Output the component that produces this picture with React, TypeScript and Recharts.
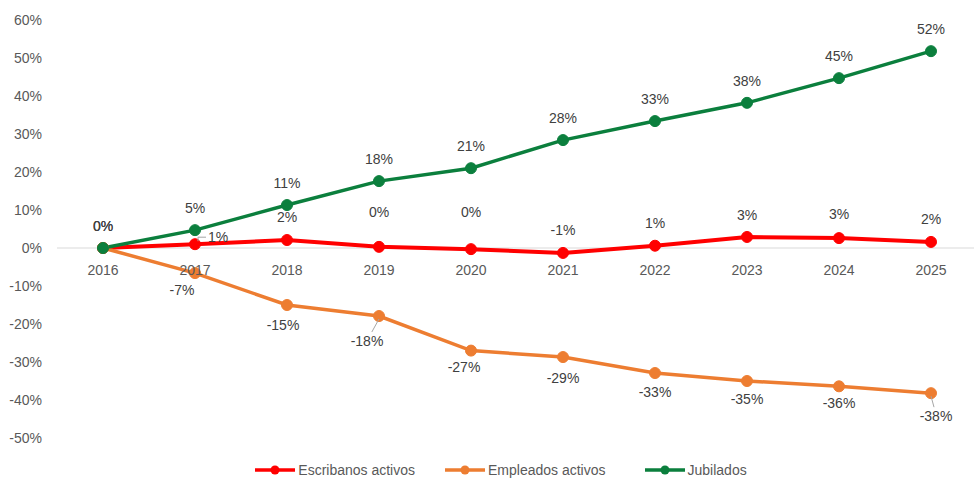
import React from 'react';
import { LineChart, Line, XAxis, YAxis, ReferenceLine, Legend, LabelList } from 'recharts';

const years = ['2016', '2017', '2018', '2019', '2020', '2021', '2022', '2023', '2024', '2025'];
const escribanos = [0, 1.0, 2.1, 0.3, -0.3, -1.3, 0.6, 2.9, 2.6, 1.6];
const empleados = [0, -6.6, -15.0, -17.9, -27.0, -28.7, -32.9, -35.0, -36.4, -38.2];
const jubilados = [0, 4.7, 11.3, 17.6, 21.0, 28.4, 33.4, 38.2, 44.7, 51.8];
const yTicks = [-50, -40, -30, -20, -10, 0, 10, 20, 30, 40, 50, 60];

const data = years.map((y, i) => ({
  year: y,
  escribanos: escribanos[i],
  empleados: empleados[i],
  jubilados: jubilados[i],
}));

const FONT = '"Liberation Sans", Arial, sans-serif';
const W = 974;
const H = 484;
const M = { top: 20, right: 0, left: 7, bottom: 0 };
const LEGEND_H = 24;
const XAXIS_H = 22;
const PLOT_H = H - M.top - M.bottom - LEGEND_H - XAXIS_H;
const Y_MIN = -50;
const Y_MAX = 60;
const ZERO_FROM_BOTTOM = (PLOT_H * (0 - Y_MIN)) / (Y_MAX - Y_MIN);

const RED = '#FF0000';
const ORANGE = '#ED7D31';
const GREEN = '#0B7F3D';

const fmt = (v: number) => `${Math.round(v) === 0 ? 0 : Math.round(v)}%`;

// label style shifts (dx, dy of label centre relative to point)
const redShift: [number, number][] = [
  [0, -22], [23, -7], [0, -23], [0, -35], [0, -37], [0, -23], [0, -23], [0, -22], [0, -24], [0, -23],
];
const orangeShift: [number, number][] = [
  [0, 0], [-13, 17], [-4, 20], [-12, 25], [-7, 16], [0, 21], [0, 19], [0, 18], [0, 17], [5, 23],
];
const greenShift: [number, number][] = [
  [0, -22], [0, -22], [0, -22], [0, -22], [0, -22], [0, -22], [0, -22], [0, -22], [0, -22], [0, -22],
];

const makeLabel = (shift: [number, number][], skip: number[], leaders: number[]) => (props: any) => {
  const { x, y, value, index } = props;
  if (skip.includes(index)) return null;
  const [dx, dy] = shift[index];
  const cx = x + dx;
  const cy = y + dy;
  let leader: React.ReactNode = null;
  if (leaders.includes(index)) {
    if (dy > 0) {
      leader = (
        <line x1={x} y1={y + 3} x2={x + dx * 0.6} y2={cy - 9} stroke="#A6A6A6" strokeWidth={1} />
      );
    } else {
      leader = (
        <polyline
          points={`${x + 3},${y - 3} ${x + 3},${cy} ${cx - 12},${cy}`}
          fill="none"
          stroke="#A6A6A6"
          strokeWidth={1}
        />
      );
    }
  }
  return (
    <g>
      {leader}
      <text x={cx} y={cy + 5} textAnchor="middle" fontSize={14} fontFamily={FONT} fill="#404040">
        {fmt(value)}
      </text>
    </g>
  );
};

const XTick = (props: any) => {
  const { x, y, payload } = props;
  return (
    <text
      x={x}
      y={y - ZERO_FROM_BOTTOM + 27}
      textAnchor="middle"
      fontSize={14}
      fontFamily={FONT}
      fill="#595959"
    >
      {payload.value}
    </text>
  );
};

const legendItems = [
  { name: 'Escribanos activos', color: RED, gap: 0 },
  { name: 'Empleados activos', color: ORANGE, gap: 30 },
  { name: 'Jubilados', color: GREEN, gap: 39 },
];

const LegendContent = () => (
  <div
    style={{
      display: 'flex',
      justifyContent: 'center',
      alignItems: 'center',
      height: LEGEND_H,
      paddingLeft: 21,
      fontFamily: FONT,
      fontSize: 14,
      color: '#595959',
    }}
  >
    {legendItems.map((it) => (
      <div key={it.name} style={{ display: 'flex', alignItems: 'center', marginLeft: it.gap }}>
        <svg width={40} height={12} style={{ marginRight: 3 }}>
          <line x1={0} y1={6} x2={40} y2={6} stroke={it.color} strokeWidth={3.5} />
          <circle cx={20} cy={6} r={4.5} fill={it.color} />
        </svg>
        <span>{it.name}</span>
      </div>
    ))}
  </div>
);

export default function App() {
  return (
    <div style={{ position: 'absolute', left: 0, top: 0, background: '#fff' }}>
      <LineChart width={W} height={H} data={data} margin={M}>
        <ReferenceLine y={0} stroke="#D9D9D9" strokeWidth={1} />
        <XAxis
          dataKey="year"
          height={XAXIS_H}
          axisLine={false}
          tickLine={false}
          tickSize={0}
          tickMargin={0}
          tick={<XTick />}
          interval={0}
          padding={{ left: 46, right: 43 }}
        />
        <YAxis
          width={50}
          domain={[Y_MIN, Y_MAX]}
          ticks={yTicks}
          interval={0}
          axisLine={false}
          tickLine={false}
          tickSize={0}
          tickMargin={15}
          tickFormatter={(v: number) => `${v}%`}
          tick={{ fontSize: 14, fontFamily: FONT, fill: '#595959' }}
        />
        <Legend verticalAlign="bottom" height={LEGEND_H} wrapperStyle={{ bottom: 2 }} content={<LegendContent />} />
        <Line
          dataKey="escribanos"
          name="Escribanos activos"
          stroke={RED}
          strokeWidth={4}
          dot={{ r: 5.5, fill: RED, stroke: RED, strokeWidth: 1 }}
          activeDot={false}
          isAnimationActive={false}
        >
          <LabelList dataKey="escribanos" content={makeLabel(redShift, [], [1])} />
        </Line>
        <Line
          dataKey="empleados"
          name="Empleados activos"
          stroke={ORANGE}
          strokeWidth={3.5}
          dot={{ r: 5.5, fill: ORANGE, stroke: ORANGE, strokeWidth: 1 }}
          activeDot={false}
          isAnimationActive={false}
        >
          <LabelList dataKey="empleados" content={makeLabel(orangeShift, [0], [3, 9])} />
        </Line>
        <Line
          dataKey="jubilados"
          name="Jubilados"
          stroke={GREEN}
          strokeWidth={3.5}
          dot={{ r: 5.5, fill: GREEN, stroke: GREEN, strokeWidth: 1 }}
          activeDot={false}
          isAnimationActive={false}
        >
          <LabelList dataKey="jubilados" content={makeLabel(greenShift, [], [])} />
        </Line>
      </LineChart>
    </div>
  );
}
